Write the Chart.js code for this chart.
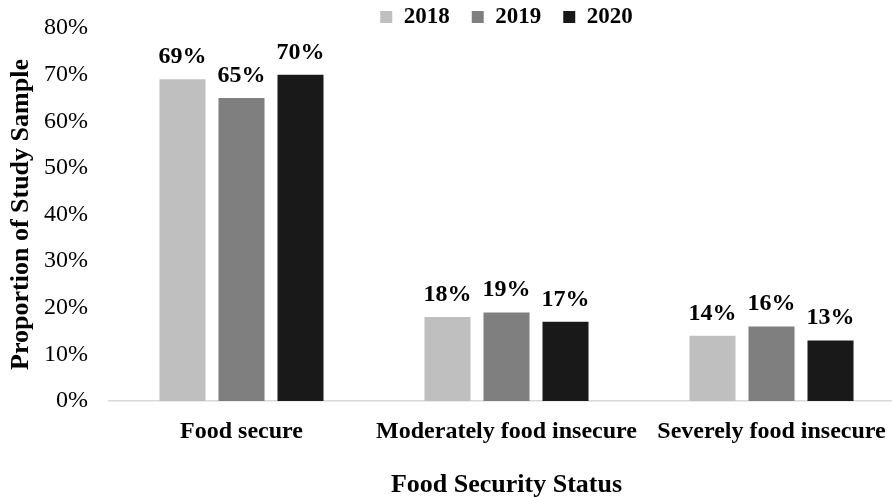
<!DOCTYPE html>
<html>
<head>
<meta charset="utf-8">
<script src="https://cdn.jsdelivr.net/npm/chart.js@4/dist/chart.umd.min.js"></script>
<style>
  html, body { margin: 0; padding: 0; background: #fff; overflow: hidden; }
  #wrap { position: relative; width: 998px; height: 497px; }
</style>
</head>
<body>
<div id="wrap"><canvas id="chart"></canvas></div>
<script>
// Food security status of the study sample, by survey year
const categories = ['Food secure', 'Moderately food insecure', 'Severely food insecure'];
const years = ['2018', '2019', '2020'];
const values2018 = [69, 18, 14];
const values2019 = [65, 19, 16];
const values2020 = [70, 17, 13];
const yearColors = ['#bfbfbf', '#7f7f7f', '#191919'];
const yTicks = [0, 10, 20, 30, 40, 50, 60, 70, 80];

const FONT = "'Liberation Serif', 'Times New Roman', serif";

// Writes each bar's value (in %) above it
const valueLabels = {
  id: 'valueLabels',
  afterDatasetsDraw(chart) {
    const ctx = chart.ctx;
    ctx.save();
    ctx.font = 'bold 24px ' + FONT;
    ctx.fillStyle = '#000';
    ctx.textAlign = 'center';
    ctx.textBaseline = 'alphabetic';
    chart.data.datasets.forEach((ds, i) => {
      chart.getDatasetMeta(i).data.forEach((bar, j) => {
        ctx.fillText(ds.data[j] + '%', bar.x, bar.y - 16);
      });
    });
    ctx.restore();
  }
};

const seriesValues = [values2018, values2019, values2020];

new Chart(document.getElementById('chart'), {
  type: 'bar',
  data: {
    labels: categories,
    datasets: years.map((y, i) => ({
      label: y,
      data: seriesValues[i],
      backgroundColor: yearColors[i],
      borderWidth: 0,
      categoryPercentage: 0.668,
      barPercentage: 0.78
    }))
  },
  options: {
    responsive: true,
    maintainAspectRatio: false,
    animation: false,
    layout: { padding: { left: 6, right: 94, top: -16.5, bottom: -4 } },
    plugins: {
      tooltip: { enabled: false },
      legend: {
        position: 'top',
        fullSize: false,
        maxHeight: 44.5,
        labels: {
          font: { family: FONT, size: 23, weight: 'bold' },
          color: '#000',
          boxWidth: 12,
          boxHeight: 12,
          padding: 22
        }
      }
    },
    scales: {
      x: {
        afterFit(scale) { scale.height = 100; },
        grid: { display: false, drawTicks: false },
        border: { display: true, color: '#d9d9d9', width: 1.5 },
        ticks: {
          font: { family: FONT, size: 24, weight: 'bold' },
          color: '#000',
          padding: 16,
          maxRotation: 0,
          autoSkip: false
        },
        title: {
          display: true,
          text: 'Food Security Status',
          font: { family: FONT, size: 26, weight: 'bold' },
          color: '#000',
          padding: { top: 23, bottom: 0 }
        }
      },
      y: {
        min: 0,
        max: 80,
        afterFit(scale) {
          scale.width = 103;
          scale.paddingTop = 14;
          scale.paddingBottom = 14;
        },
        grid: { display: false, drawTicks: false },
        border: { display: false },
        afterBuildTicks(scale) {
          scale.ticks = yTicks.map(v => ({ value: v }));
        },
        ticks: {
          font: { family: FONT, size: 24 },
          color: '#000',
          padding: 21,
          callback: v => v + '%'
        },
        title: {
          display: true,
          text: 'Proportion of Study Sample',
          font: { family: FONT, size: 26, weight: 'bold' },
          color: '#000',
          padding: { top: 0, bottom: 7 }
        }
      }
    }
  },
  plugins: [valueLabels]
});
</script>
</body>
</html>
